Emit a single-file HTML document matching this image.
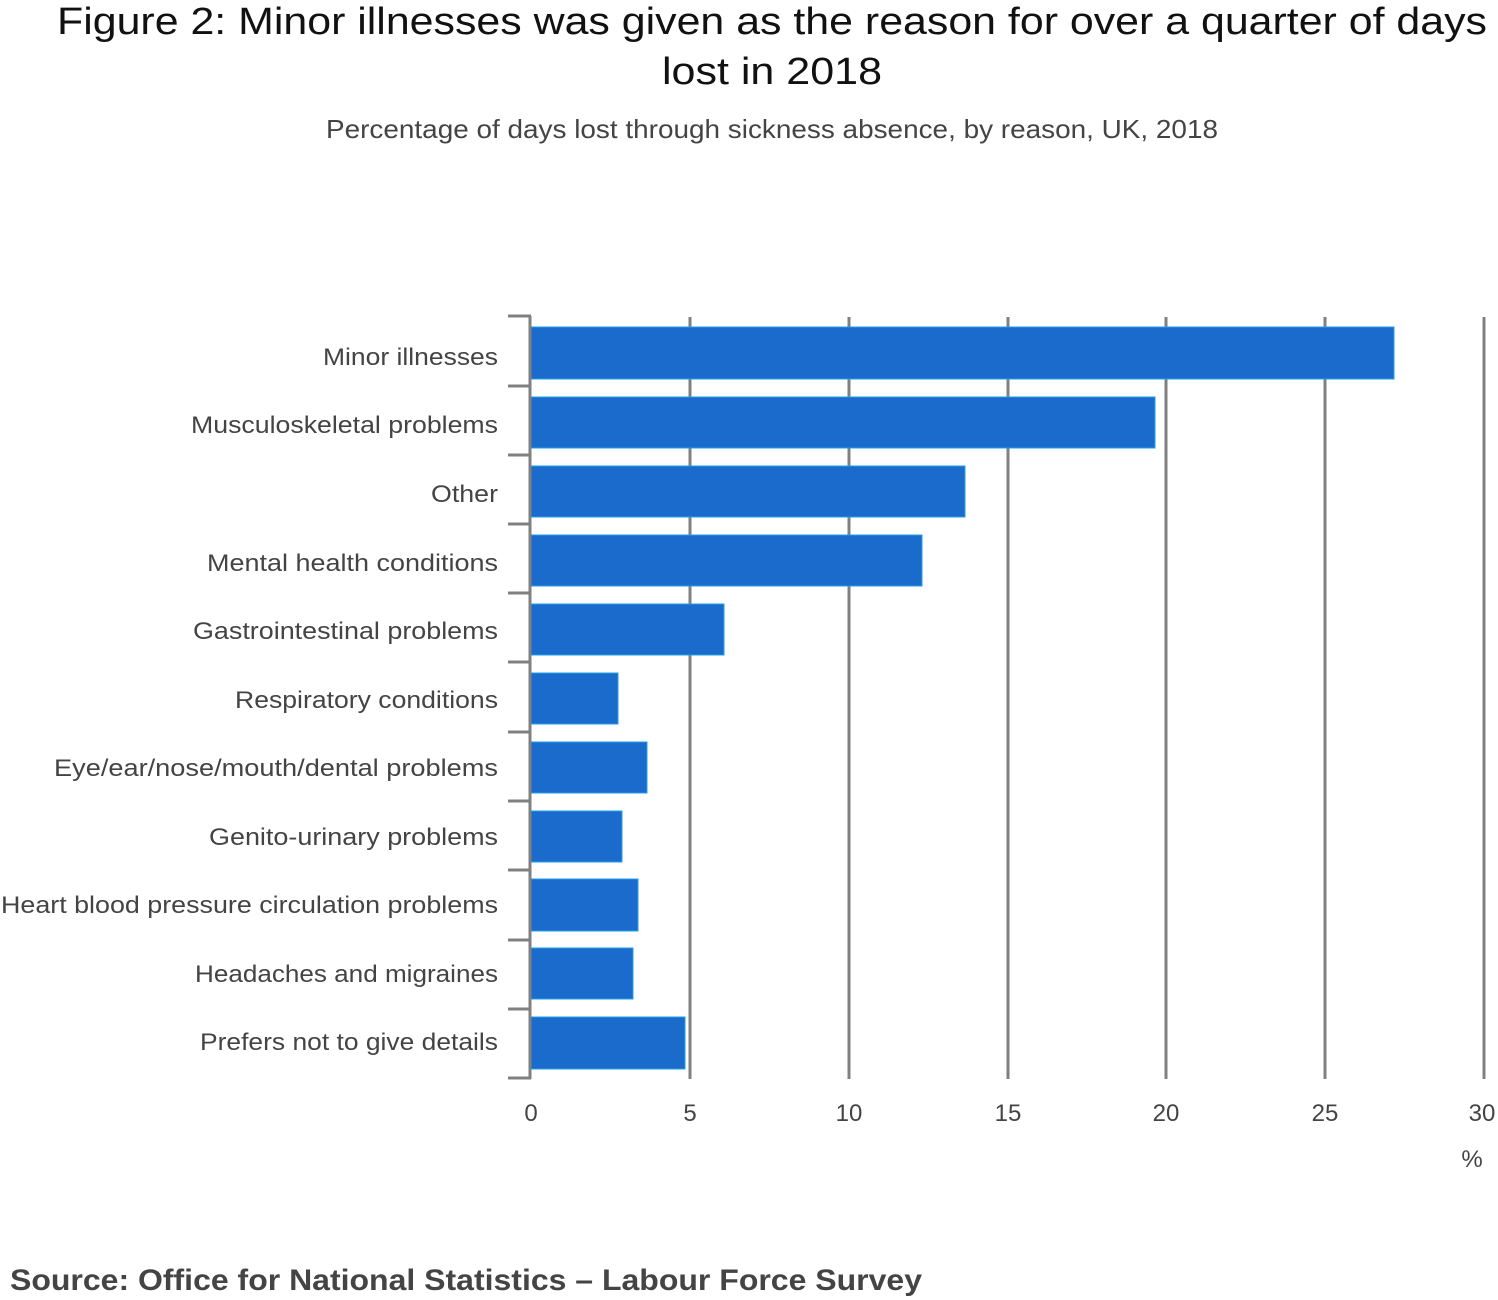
<!DOCTYPE html>
<html><head><meta charset="utf-8"><style>
html,body{margin:0;padding:0;background:#fff;}
svg{display:block;font-family:"Liberation Sans",sans-serif;}
</style></head><body>
<svg width="1498" height="1300" viewBox="0 0 1498 1300" xmlns="http://www.w3.org/2000/svg">
<text x="772" y="34" font-size="38" fill="#111" text-anchor="middle" textLength="1430" lengthAdjust="spacingAndGlyphs">Figure 2: Minor illnesses was given as the reason for over a quarter of days</text>
<text x="772" y="84" font-size="38" fill="#111" text-anchor="middle" textLength="220" lengthAdjust="spacingAndGlyphs">lost in 2018</text>
<text x="772" y="138" font-size="26" fill="#444" text-anchor="middle" textLength="892" lengthAdjust="spacingAndGlyphs">Percentage of days lost through sickness absence, by reason, UK, 2018</text>
<g stroke="#808080" stroke-width="3">
<line x1="690" y1="317" x2="690" y2="1079"/>
<line x1="849" y1="317" x2="849" y2="1079"/>
<line x1="1008" y1="317" x2="1008" y2="1079"/>
<line x1="1166" y1="317" x2="1166" y2="1079"/>
<line x1="1325" y1="317" x2="1325" y2="1079"/>
<line x1="1484" y1="317" x2="1484" y2="1079"/>
</g>
<g fill="#1b6bcc" stroke="#1fa0e8" stroke-width="1">
<rect x="531" y="327" width="863" height="52"/>
<rect x="531" y="397" width="624" height="51"/>
<rect x="531" y="466" width="434" height="51"/>
<rect x="531" y="535" width="391" height="51"/>
<rect x="531" y="604" width="193" height="51"/>
<rect x="531" y="673" width="87" height="51"/>
<rect x="531" y="742" width="116" height="51"/>
<rect x="531" y="811" width="91" height="51"/>
<rect x="531" y="879" width="107" height="52"/>
<rect x="531" y="948" width="102" height="51"/>
<rect x="531" y="1017" width="154" height="52"/>
</g>
<g stroke="#808080" stroke-width="3">
<line x1="530" y1="316" x2="530" y2="1079"/>
<line x1="508" y1="316" x2="531" y2="316"/>
<line x1="508" y1="386" x2="531" y2="386"/>
<line x1="508" y1="455" x2="531" y2="455"/>
<line x1="508" y1="524" x2="531" y2="524"/>
<line x1="508" y1="593" x2="531" y2="593"/>
<line x1="508" y1="662" x2="531" y2="662"/>
<line x1="508" y1="732" x2="531" y2="732"/>
<line x1="508" y1="801" x2="531" y2="801"/>
<line x1="508" y1="870" x2="531" y2="870"/>
<line x1="508" y1="940" x2="531" y2="940"/>
<line x1="508" y1="1009" x2="531" y2="1009"/>
<line x1="508" y1="1078" x2="531" y2="1078"/>
</g>
<g font-size="24" fill="#444" text-anchor="end" lengthAdjust="spacingAndGlyphs">
<text x="498" y="365" textLength="175" lengthAdjust="spacingAndGlyphs">Minor illnesses</text>
<text x="498" y="433" textLength="307" lengthAdjust="spacingAndGlyphs">Musculoskeletal problems</text>
<text x="498" y="502" textLength="67" lengthAdjust="spacingAndGlyphs">Other</text>
<text x="498" y="571" textLength="291" lengthAdjust="spacingAndGlyphs">Mental health conditions</text>
<text x="498" y="639" textLength="305" lengthAdjust="spacingAndGlyphs">Gastrointestinal problems</text>
<text x="498" y="708" textLength="263" lengthAdjust="spacingAndGlyphs">Respiratory conditions</text>
<text x="498" y="776" textLength="444" lengthAdjust="spacingAndGlyphs">Eye/ear/nose/mouth/dental problems</text>
<text x="498" y="845" textLength="289" lengthAdjust="spacingAndGlyphs">Genito-urinary problems</text>
<text x="498" y="913" textLength="497" lengthAdjust="spacingAndGlyphs">Heart blood pressure circulation problems</text>
<text x="498" y="982" textLength="303" lengthAdjust="spacingAndGlyphs">Headaches and migraines</text>
<text x="498" y="1050" textLength="298" lengthAdjust="spacingAndGlyphs">Prefers not to give details</text>
</g>
<g font-size="24" fill="#444" text-anchor="middle">
<text x="531" y="1121">0</text>
<text x="690" y="1121">5</text>
<text x="849" y="1121">10</text>
<text x="1008" y="1121">15</text>
<text x="1166" y="1121">20</text>
<text x="1325" y="1121">25</text>
<text x="1482" y="1121">30</text>
<text x="1472" y="1167">%</text>
</g>
<text x="10" y="1290" font-size="30" font-weight="bold" fill="#444" textLength="912" lengthAdjust="spacingAndGlyphs">Source: Office for National Statistics – Labour Force Survey</text>
</svg>
</body></html>
